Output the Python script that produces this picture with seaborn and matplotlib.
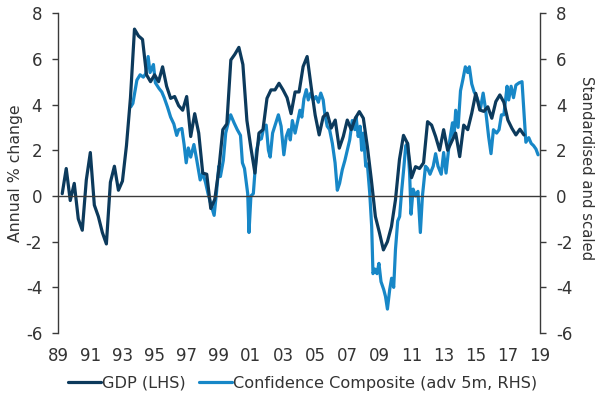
import numpy as np
import pandas as pd
import matplotlib
matplotlib.use("Agg")
import matplotlib.pyplot as plt
import seaborn as sns

# ---------------- data ----------------
gdp_start = "1989-04-01"
gdp_values = [
    0.1, 1.2, -0.2, 0.55,            # 1989Q2..1990Q1
    -1.0, -1.5, 0.7, 1.9,            # 1990Q2..1991Q1
    -0.4, -0.9, -1.6, -2.1,
    0.6, 1.3, 0.25, 0.65,
    2.2, 4.3, 7.3, 7.0,
    6.85, 5.3, 5.0, 5.3,
    5.0, 5.65, 4.8, 4.27,
    4.35, 3.95, 3.75, 4.35,
    2.6, 3.6, 2.75, 1.0,
    0.95, -0.55, -0.15, 1.15,
    2.9, 3.15, 5.95, 6.2,
    6.5, 5.75, 3.3, 2.1,
    1.0, 2.75, 2.9, 4.27,
    4.64, 4.64, 4.93, 4.64,
    4.3, 3.6, 4.55, 4.55,
    5.66, 6.1, 4.78, 3.54,
    2.67, 3.46, 3.62, 2.97,
    3.32, 2.09, 2.6, 3.32,
    2.9, 3.4, 3.69, 3.4,
    2.16, 0.7, -0.9, -1.6,
    -2.36, -2.0, -1.34, -0.17,
    1.6, 2.65, 2.3, 0.8,
    1.28, 1.2, 1.45, 3.25,
    3.1, 2.6, 2.0, 2.9,
    2.0, 2.38, 2.75, 1.72,
    3.1, 2.9, 3.62, 4.49,
    3.76, 3.7, 3.9, 3.4,
    4.13, 4.42, 4.1, 3.32,
    2.96, 2.67, 2.92, 2.67,
]

conf_year = [
    1993.52, 1993.65, 1993.9, 1994.1, 1994.3, 1994.45, 1994.6, 1994.72, 1994.93, 1995.05,
    1995.28, 1995.45, 1995.6, 1995.8, 1996.0, 1996.2, 1996.38, 1996.5, 1996.7, 1996.84,
    1996.97, 1997.1, 1997.25, 1997.45, 1997.62, 1997.84, 1998.0, 1998.17, 1998.33, 1998.54,
    1998.71, 1998.85, 1999.0, 1999.1, 1999.28, 1999.43, 1999.6, 1999.74, 1999.95, 2000.15,
    2000.35, 2000.47, 2000.6, 2000.8, 2000.88, 2001.0, 2001.15, 2001.35, 2001.5, 2001.65,
    2001.82, 2001.95, 2002.09, 2002.2, 2002.35, 2002.55, 2002.71, 2002.88, 2003.05, 2003.2,
    2003.35, 2003.45, 2003.58, 2003.75, 2003.92, 2004.05, 2004.17, 2004.3, 2004.45, 2004.57,
    2004.72, 2004.88, 2005.05, 2005.2, 2005.35, 2005.5, 2005.6, 2005.75, 2005.9, 2006.07,
    2006.24, 2006.38, 2006.52, 2006.69, 2006.85, 2007.0, 2007.15, 2007.31, 2007.47, 2007.55,
    2007.68, 2007.8, 2007.9, 2008.0, 2008.15, 2008.25, 2008.4, 2008.52, 2008.6, 2008.72,
    2008.85, 2008.97, 2009.1, 2009.27, 2009.38, 2009.5, 2009.64, 2009.76, 2009.89, 2010.0,
    2010.14, 2010.26, 2010.39, 2010.51, 2010.64, 2010.76, 2010.88, 2010.97, 2011.1, 2011.25,
    2011.4, 2011.55, 2011.68, 2011.87, 2012.0, 2012.15, 2012.35, 2012.5, 2012.65, 2012.85,
    2013.0, 2013.15, 2013.35, 2013.55, 2013.65, 2013.75, 2013.9, 2014.05, 2014.2, 2014.35,
    2014.5, 2014.6, 2014.75, 2014.9, 2015.05, 2015.3, 2015.46, 2015.6, 2015.8, 2015.95,
    2016.1, 2016.3, 2016.45, 2016.6, 2016.75, 2016.95, 2017.05, 2017.2, 2017.35, 2017.5,
    2017.7, 2017.88, 2018.12, 2018.3, 2018.45, 2018.6, 2018.75, 2018.88,
]
conf_value = [
    3.9, 4.05, 5.07, 5.3, 5.2, 5.35, 6.1, 5.4, 5.75, 4.95,
    4.7, 4.55, 4.3, 3.9, 3.45, 3.15, 2.65, 2.9, 2.95, 2.25,
    1.45, 2.1, 1.7, 2.25, 1.6, 0.7, 1.0, 0.6, 0.1, -0.45,
    -0.85, 0.1, 1.3, 0.85, 1.55, 2.75, 3.25, 3.55, 3.2, 2.9,
    2.65, 1.45, 1.2, 0.1, -1.6, 0.0, 0.1, 2.0, 2.45, 2.5,
    3.05, 3.1, 2.0, 1.7, 2.75, 3.2, 3.55, 3.05, 1.8, 2.6,
    2.9, 2.45, 3.3, 2.75, 3.3, 3.75, 3.45, 4.25, 4.65, 4.2,
    4.5, 4.2, 4.35, 4.1, 4.5, 4.2, 3.6, 3.05, 2.9, 2.3,
    1.45, 0.25, 0.55, 1.15, 1.55, 2.0, 2.45, 3.3, 2.9, 3.45,
    2.6, 3.05, 2.0, 2.75, 1.3, 1.4, 0.1, -1.35, -3.4, -3.2,
    -3.4, -2.95, -3.75, -4.1, -4.4, -4.95, -4.1, -3.6, -4.0, -2.35,
    -1.1, -0.9, 0.25, 1.15, 2.2, 2.3, 1.0, -0.8, 0.3, 0.0,
    0.2, -1.6, 0.0, 1.3, 1.2, 0.95, 1.3, 1.85, 1.3, 0.95,
    1.9, 1.0, 2.3, 3.2, 2.6, 3.75, 3.0, 4.6, 5.1, 5.65,
    5.4, 5.65, 4.9, 4.55, 4.35, 3.85, 4.5, 3.85, 2.6, 1.85,
    2.9, 2.75, 2.9, 3.55, 3.55, 4.8, 4.2, 4.8, 4.3, 4.85,
    4.95, 5.0, 2.35, 2.55, 2.3, 2.2, 2.05, 1.8,
]

x_ticks = list(range(1989, 2020, 2))
x_tick_labels = ["89", "91", "93", "95", "97", "99", "01", "03", "05", "07",
                 "09", "11", "13", "15", "17", "19"]
y_ticks = [-6, -4, -2, 0, 2, 4, 6, 8]

gdp_label = "GDP (LHS)"
conf_label = "Confidence Composite (adv 5m, RHS)"
left_label = "Annual % change"
right_label = "Standardised and scaled"

# ---------------- build frames ----------------
gdp_dates = pd.date_range(gdp_start, periods=len(gdp_values), freq="QS")
gdp_df = pd.DataFrame({
    "year": gdp_dates.year + (gdp_dates.month - 1) / 12.0,
    "value": gdp_values,
})
conf_df = pd.DataFrame({"year": conf_year, "value": conf_value})

# ---------------- style ----------------
sns.set_style("white")
plt.rcParams["font.family"] = ["DejaVu Sans"]

dark = "#0c3a5c"
light = "#1787c7"
text_col = "#333333"
axis_col = "#3a3a3a"

fig = plt.figure(figsize=(6.0, 3.97), dpi=100)
ax = fig.add_axes([0.097, 0.161, 0.803, 0.806])
ax2 = ax.twinx()

sns.lineplot(data=gdp_df, x="year", y="value", ax=ax, color=dark, lw=2.3,
             label=gdp_label, legend=False)
sns.lineplot(data=conf_df, x="year", y="value", ax=ax2, color=light, lw=2.3,
             label=conf_label, legend=False)
ax.set_zorder(ax2.get_zorder() + 1)
ax.patch.set_visible(False)

for a in (ax, ax2):
    a.set_xlim(1989, 2019)
    a.set_ylim(-6, 8)
    a.set_yticks(y_ticks)
    a.set_yticklabels([str(v) for v in y_ticks])
    a.spines["top"].set_visible(False)
    a.set_xlabel("")

ax.set_xticks(x_ticks)
ax.set_xticklabels(x_tick_labels)
ax.spines["right"].set_visible(False)
ax.spines["bottom"].set_position(("data", 0))
ax.spines["bottom"].set_color(axis_col)
ax.spines["bottom"].set_linewidth(1.0)
ax.spines["left"].set_color(axis_col)
ax.spines["left"].set_linewidth(1.0)
ax.tick_params(axis="x", direction="out", length=4, width=1, color=axis_col,
               pad=104.5, labelsize=12, labelcolor=text_col)
ax.tick_params(axis="y", direction="out", length=4, width=1, color=axis_col,
               pad=7.5, labelsize=12, labelcolor=text_col, left=True)

ax2.spines["left"].set_visible(False)
ax2.spines["bottom"].set_visible(False)
ax2.spines["right"].set_color(axis_col)
ax2.spines["right"].set_linewidth(1.0)
ax2.tick_params(axis="y", direction="out", length=4, width=1, color=axis_col,
                pad=7.5, labelsize=12, labelcolor=text_col, right=True)
ax2.tick_params(axis="x", bottom=False, labelbottom=False)

ax.set_ylabel(left_label, fontsize=11.3, color=text_col, va="center")
ax.yaxis.set_label_coords(-0.089, 0.5)
ax2.set_ylabel(right_label, fontsize=10.7, color=text_col, rotation=-90,
               va="center")
ax2.yaxis.set_label_coords(1.0975, 0.517)

h1, l1 = ax.get_legend_handles_labels()
h2, l2 = ax2.get_legend_handles_labels()
fig.legend(h1 + h2, l1 + l2, loc="center", bbox_to_anchor=(0.504, 0.035),
           ncol=2, frameon=False, fontsize=11.6, handlelength=2.05,
           handletextpad=0.08, columnspacing=0.8, labelcolor=text_col)

fig.savefig("out.png", dpi=100)
